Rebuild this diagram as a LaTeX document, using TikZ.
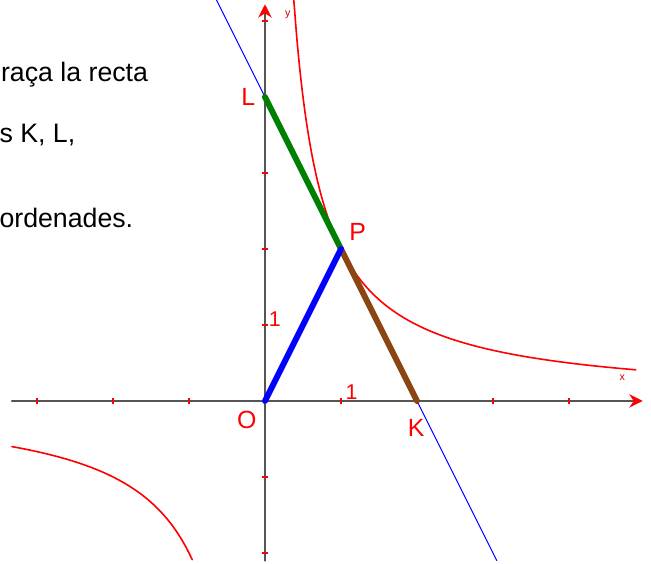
\documentclass[tikz,border=0pt]{standalone}
\usepackage{fontspec}
\setmainfont{Liberation Sans}
\usetikzlibrary{arrows.meta,positioning}
\definecolor{axisgray}{HTML}{555555}
\definecolor{curvered}{HTML}{FF0000}
\definecolor{segbrown}{HTML}{8B4513}
\definecolor{seggreen}{HTML}{008000}
\definecolor{labred}{HTML}{CC0000}

\begin{document}
\begin{tikzpicture}[x=1cm,y=1cm,line join=round,line cap=round]
  % canvas 651 x 564 px, 1 unit = 76 px, origin at (265,401)
  \useasboundingbox (-3.487,-2.145) rectangle (5.079,5.276);
  \tikzset{
    tick/.style={curvered,line width=0.75pt,line cap=butt},
    ptlabel/.style={text=curvered,font=\fontsize{9.3}{10}\selectfont,inner sep=0pt},
    numlabel/.style={text=curvered,font=\fontsize{8}{9}\selectfont,inner sep=0pt},
    axlabel/.style={text=labred,font=\fontsize{4}{5}\selectfont,inner sep=0pt},
    txt/.style={font=\fontsize{10}{12}\selectfont,inner sep=0pt,anchor=base west}
  }

  % ---- statement text (cut off at the left) ----
  \node[txt] (t1) at (-3.48,4.21) {raça la recta};
  \node[txt] (t2) at (-3.50,3.395) {s K, L,};
  \node[txt] (t3) at (-3.50,2.276) {ordenades.};

  % ---- axes ----
  \draw[axisgray,line width=0.75pt,-{Stealth[curvered,length=5pt,width=5pt]}]
    (-3.33,0) -- (4.97,0);
  \draw[axisgray,line width=0.75pt,-{Stealth[curvered,length=5pt,width=5pt]}]
    (0,-2.1) -- (0,5.22);
  \foreach \i in {-3,-2,-1,1,2,3,4}{
    \draw[tick] (\i,-0.045) -- (\i,0.045);
  }
  \foreach \j in {-2,-1,1,2,3,4,5}{
    \draw[tick] (-0.045,\j) -- (0.045,\j);
  }
  \node[axlabel] (xl) at (4.70,0.30) {x};
  \node[axlabel] (yl) at (0.30,5.08) {y};
  \node[numlabel] (one y) at (0.13,1.07) {1};
  \node[numlabel] (one x) at (1.14,0.11) {1};

  % ---- hyperbola xy = 2 ----
  \draw[curvered,line width=0.6pt,domain=0.379:4.88,samples=120,smooth]
    plot (\x,{2/\x});
  \draw[curvered,line width=0.6pt,domain=-3.33:-0.957,samples=80,smooth]
    plot (\x,{2/\x});

  % ---- tangent at P ----
  \coordinate (O) at (0,0);
  \coordinate (P) at (1,2);
  \coordinate (K) at (2,0);
  \coordinate (L) at (0,4);
  \coordinate (top) at (-0.64,5.28);
  \coordinate (bot) at (3.05,-2.1);
  \draw[blue,line width=0.4pt] (top) -- (bot);

  % thick segments
  \draw[seggreen,line width=2.2pt] (L) -- (P);
  \draw[segbrown,line width=2.2pt] (P) -- (K);
  \draw[blue,line width=2.2pt] (O) -- (P);

  % point labels
  \node[ptlabel] (lab L) at (-0.22,4.0) {L};
  \node[ptlabel] (lab P) at (1.22,2.22) {P};
  \node[ptlabel] (lab O) at (-0.24,-0.25) {O};
  \node[ptlabel] (lab K) at (1.99,-0.36) {K};
\end{tikzpicture}
\end{document}
